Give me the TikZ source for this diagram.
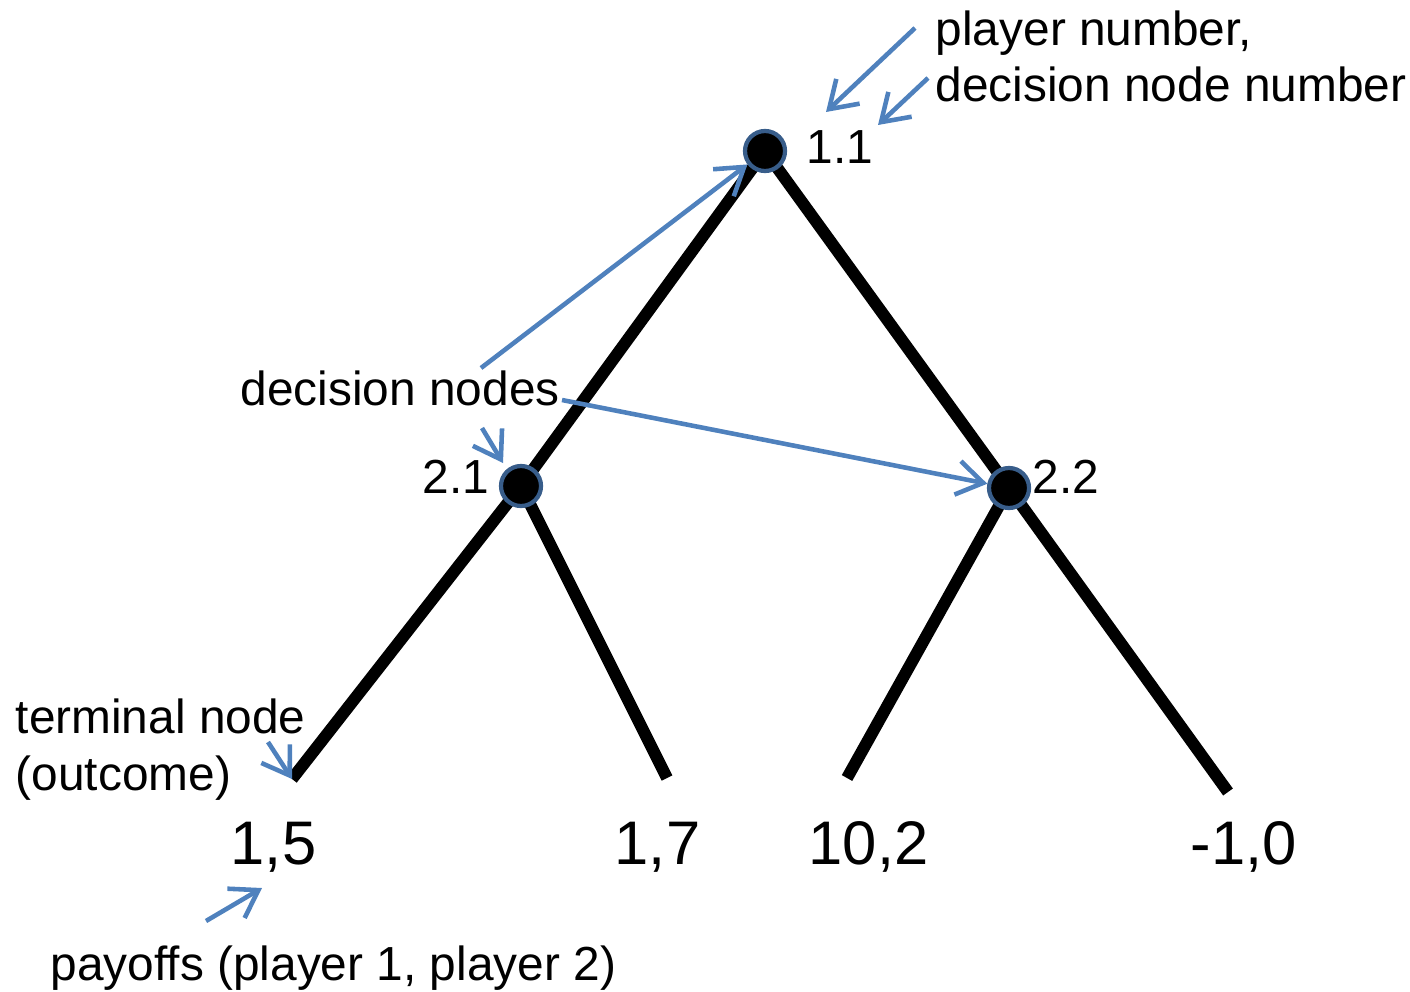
\documentclass[tikz,border=0pt]{standalone}
\usepackage{fontspec}
\setmainfont{Liberation Sans}
\usepackage{xcolor}
\usepackage{tikz}
\usetikzlibrary{positioning,calc,arrows.meta}
\definecolor{notecol}{HTML}{4F81BD}
\definecolor{rimcol}{HTML}{385D8A}

\begin{document}
\begin{tikzpicture}[x=0.01cm, y=-0.01cm,
    dnode/.style={circle, fill=black, draw=rimcol, line width=1.2pt, minimum size=0.4cm, inner sep=0pt},
    branch/.style={line width=3.4pt, black},
    note/.style={->, >={Straight Barb[length=2.6mm, width=3.4mm]}, notecol, line width=1.3pt},
    small/.style={font=\fontsize{13.6}{16.2}\selectfont, inner sep=0pt},
    pay/.style={font=\fontsize{17.5}{20}\selectfont, inner sep=0pt, anchor=base west}]
    \useasboundingbox (0,0) rectangle (1410,991);

    % tree
    \coordinate (p11) at (765,151);
    \coordinate (p21) at (521,486);
    \coordinate (p22) at (1009,488);
    \coordinate (l1) at (292,779);
    \coordinate (l2) at (667,778);
    \coordinate (l3) at (847,778);
    \coordinate (l4) at (1228,792);
    \draw[branch] (l1) -- (p21) -- (p11) -- (p22) -- (l4);
    \draw[branch] (p21) -- (l2);
    \draw[branch] (p22) -- (l3);
    \node[dnode] (n11) at (p11) {};
    \node[dnode] (n21) at (p21) {};
    \node[dnode] (n22) at (p22) {};

    % node numbers
    \node[small, anchor=base west] (t11) at (806,163) {1.1};
    \node[small, anchor=base east] (t21) at (490,493) {2.1};
    \node[small, anchor=base west] (t22) at (1032,493) {2.2};

    % payoffs
    \node[pay] (u1) at (230,864) {1,5};
    \node[pay] (u2) at (614,864) {1,7};
    \node[pay] (u3) at (808,864) {10,2};
    \node[pay] (u4) at (1190,864) {-1,0};

    % annotations
    \node[small, anchor=base west, align=left] (pn) at (935,102) {player number,\\decision node number};
    \node[small, anchor=base west] (dn) at (240,405) {decision nodes};
    \node[small, anchor=base west, align=left] (tn) at (15,790) {terminal node\\(outcome)};
    \node[small, anchor=base west] (po) at (50,980) {payoffs (player 1, player 2)};

    \coordinate (a1) at (915,28);
    \coordinate (b1) at (826,112);
    \coordinate (a2) at (928,78);
    \coordinate (b2) at (878,125);
    \coordinate (a3) at (481,368);
    \coordinate (a4) at (562,400);
    \coordinate (a5) at (482,428);
    \coordinate (b5) at (503,463);
    \coordinate (a6) at (268,742);
    \coordinate (a7) at (206,921);
    \coordinate (b7) at (262,888);
    \draw[note] (a1) -- (b1);
    \draw[note] (a2) -- (b2);
    \draw[note] (a3) -- (n11);
    \draw[note] (a4) -- (n22);
    \draw[note] (a5) -- (b5);
    \draw[note] (a6) -- (l1);
    \draw[note] (a7) -- (b7);
\end{tikzpicture}
\end{document}
